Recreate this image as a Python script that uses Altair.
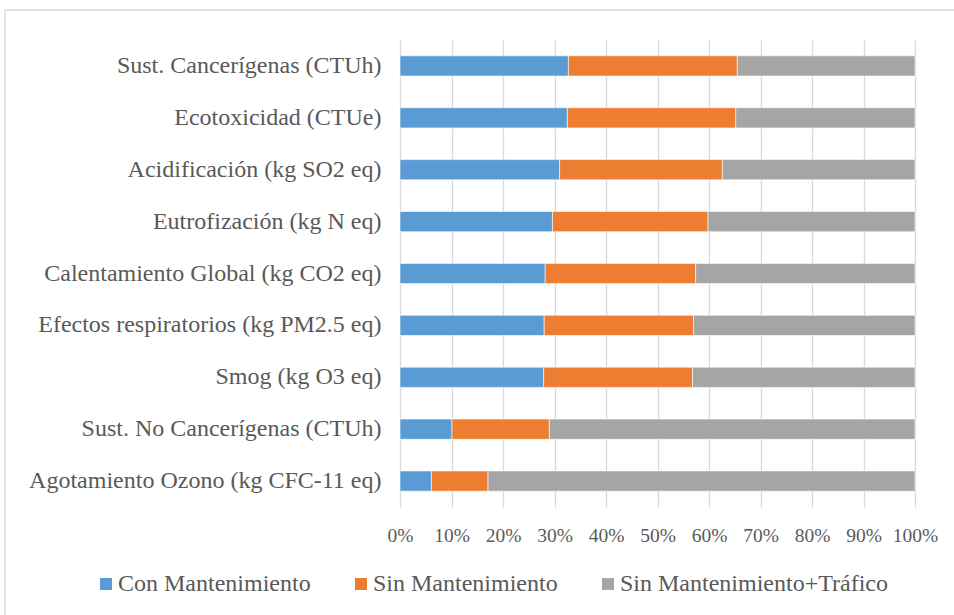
import altair as alt
import pandas as pd

# Impact categories (top to bottom) and the share of each scenario
categories = [
    "Sust. Cancerígenas (CTUh)",
    "Ecotoxicidad (CTUe)",
    "Acidificación (kg SO2 eq)",
    "Eutrofización (kg N eq)",
    "Calentamiento Global (kg CO2 eq)",
    "Efectos respiratorios (kg PM2.5 eq)",
    "Smog (kg O3 eq)",
    "Sust. No Cancerígenas (CTUh)",
    "Agotamiento Ozono (kg CFC-11 eq)",
]
series = ["Con Mantenimiento", "Sin Mantenimiento", "Sin Mantenimiento+Tráfico"]
con_mant = [32.7, 32.5, 31.0, 29.6, 28.2, 28.0, 27.9, 10.1, 6.1]
sin_mant = [32.8, 32.7, 31.6, 30.2, 29.2, 29.0, 28.9, 18.9, 11.0]
sin_mant_traf = [34.5, 34.8, 37.4, 40.2, 42.6, 43.0, 43.2, 71.0, 82.9]
colors = ["#5B9BD5", "#ED7D31", "#A5A5A5"]

rows = []
for i, cat in enumerate(categories):
    for k, (name, vals) in enumerate(zip(series, [con_mant, sin_mant, sin_mant_traf])):
        rows.append({"categoria": cat, "escenario": name, "valor": vals[i], "orden": k})
df = pd.DataFrame(rows)

FONT = "Liberation Serif"
TXT = "#595959"

bars = alt.Chart(df).mark_bar(stroke="white", strokeWidth=0.6).encode(
    y=alt.Y(
        "categoria:N",
        sort=categories,
        scale=alt.Scale(paddingInner=0.61, paddingOuter=0.305),
        axis=alt.Axis(
            title=None, ticks=False, domain=False, grid=False,
            labelFont=FONT, labelFontSize=24, labelColor=TXT,
            labelPadding=19, labelLimit=500,
        ),
    ),
    x=alt.X(
        "valor:Q",
        stack="normalize",
        scale=alt.Scale(domain=[0, 1]),
        axis=alt.Axis(
            title=None, format=".0%", values=[i / 10 for i in range(11)],
            ticks=False, domain=False, grid=True, gridColor="#D9D9D9",
            gridWidth=1.3, labelFont=FONT, labelFontSize=19.5,
            labelColor=TXT, labelPadding=19, labelFlush=False,
        ),
    ),
    color=alt.Color(
        "escenario:N",
        sort=series,
        scale=alt.Scale(domain=series, range=colors),
        legend=alt.Legend(
            title=None, orient="none", direction="horizontal",
            legendX=-306, legendY=532, symbolType="square", symbolSize=144,
            symbolStrokeWidth=0, labelFont=FONT, labelFontSize=24,
            labelColor=TXT, labelOffset=0, columnPadding=38, labelLimit=500,
            padding=0,
        ),
    ),
    order=alt.Order("orden:Q", sort="ascending"),
)

# Outer frame around the whole figure
frame = alt.Chart(pd.DataFrame({"k": [0]})).mark_rect(
    fill="transparent", stroke="#D9D9D9", strokeWidth=1.3, clip=False
).encode(
    x=alt.value(-395), x2=alt.value(600), y=alt.value(-30), y2=alt.value(650)
)

chart = (
    alt.layer(frame, bars)
    .properties(
        width=515, height=467,
        autosize=alt.AutoSizeParams(type="none"),
        padding={"left": 400, "top": 40, "right": 39, "bottom": 108},
        background="white",
    )
    .configure_view(strokeWidth=0)
)

chart.save("out.html", embed_options={"renderer": "svg", "actions": False})
